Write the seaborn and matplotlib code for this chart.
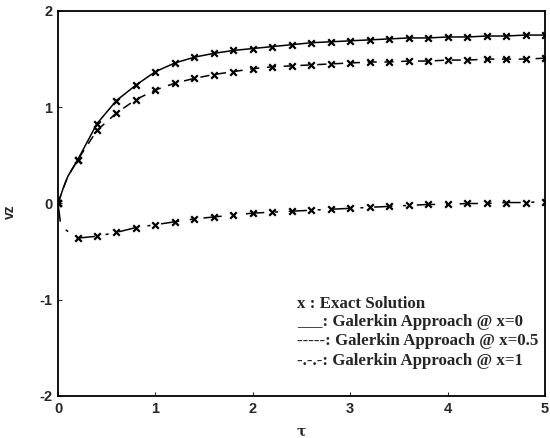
import matplotlib
matplotlib.use("Agg")
import matplotlib.pyplot as plt
import seaborn as sns

# time grid of the exact-solution markers
tau = [0.0, 0.2, 0.4, 0.6, 0.8, 1.0, 1.2, 1.4, 1.6, 1.8, 2.0, 2.2, 2.4, 2.6,
       2.8, 3.0, 3.2, 3.4, 3.6, 3.8, 4.0, 4.2, 4.4, 4.6, 4.8, 5.0]

vz_x0 = [0.0, 0.45, 0.83, 1.07, 1.23, 1.37, 1.46, 1.52, 1.56, 1.59, 1.61, 1.63,
         1.65, 1.67, 1.68, 1.69, 1.70, 1.71, 1.72, 1.72, 1.73, 1.73, 1.74,
         1.74, 1.75, 1.75]
vz_x05 = [0.0, 0.45, 0.76, 0.94, 1.08, 1.18, 1.25, 1.30, 1.34, 1.37, 1.40,
          1.42, 1.43, 1.44, 1.45, 1.46, 1.47, 1.47, 1.48, 1.48, 1.49, 1.49,
          1.50, 1.50, 1.50, 1.51]
vz_x1 = [0.0, -0.36, -0.34, -0.30, -0.25, -0.22, -0.19, -0.16, -0.14, -0.12,
         -0.10, -0.09, -0.08, -0.07, -0.06, -0.05, -0.04, -0.03, -0.02, -0.01,
         -0.01, 0.0, 0.0, 0.01, 0.01, 0.02]

# Galerkin curves: extra early points for the steep start
tau_line = [0.0, 0.05, 0.1] + tau[1:]
vz_x0_line = [0.0, 0.15, 0.28] + vz_x0[1:]
vz_x05_line = [0.0, 0.15, 0.28] + vz_x05[1:]
tau_x1_line = [0.0, 0.03] + tau[1:]
vz_x1_line = [0.0, -0.24] + vz_x1[1:]

legend_lines = [
    "x : Exact Solution",
    "___: Galerkin Approach @ x=0",
    "-----: Galerkin Approach @ x=0.5",
    "-.-.-: Galerkin Approach @ x=1",
]

sns.set_style("white")
plt.rcParams["font.family"] = ["Liberation Sans", "DejaVu Sans"]
plt.rcParams["axes.unicode_minus"] = False

fig = plt.figure(figsize=(5.5, 4.38), dpi=100)
ax = fig.add_axes([0.1055, 0.0959, 0.8855, 0.879])

sns.lineplot(x=tau_line, y=vz_x0_line, ax=ax, color="black", linewidth=1.1,
             linestyle="-")
sns.lineplot(x=tau_line, y=vz_x05_line, ax=ax, color="black", linewidth=1.1,
             linestyle=(0, (6, 5)))
sns.lineplot(x=tau_x1_line, y=vz_x1_line, ax=ax, color="black", linewidth=1.1,
             linestyle=(0, (12, 7, 2, 7)))

for vals in (vz_x0, vz_x05, vz_x1):
    sns.scatterplot(x=tau, y=vals, ax=ax, marker="x", s=22, color="black",
                    linewidth=1.6, zorder=3)

ax.set_xlim(0, 5)
ax.set_ylim(-2, 2)
ax.set_xticks([0, 1, 2, 3, 4, 5])
ax.set_yticks([-2, -1, 0, 1, 2])
ax.tick_params(direction="in", length=3, width=0.8, labelsize=10.5, pad=4,
               top=False, right=False, left=True, bottom=True)
for lab in ax.get_xticklabels() + ax.get_yticklabels():
    lab.set_fontweight("bold")
for sp in ax.spines.values():
    sp.set_color("black")
    sp.set_linewidth(1.3)

ax.set_xlabel("τ", fontsize=10, fontweight="bold", family="DejaVu Serif")
ax.xaxis.set_label_coords(0.5, -0.075)
ax.set_ylabel("vz", fontsize=10, fontweight="bold")
ax.yaxis.set_label_coords(-0.085, 0.48)

ys = [0.239, 0.191, 0.142, 0.091]
for txt, y in zip(legend_lines, ys):
    ax.text(0.49, y, txt, transform=ax.transAxes, fontsize=12.2,
            fontweight="bold", family="Liberation Serif", va="center",
            ha="left")

fig.savefig("out.png", dpi=100)
